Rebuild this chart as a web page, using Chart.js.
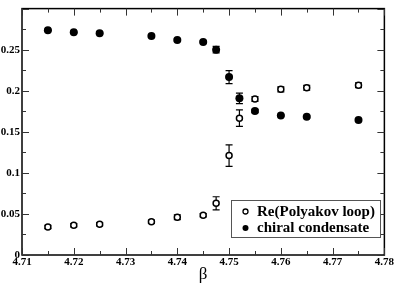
<!DOCTYPE html>
<html><head><meta charset="utf-8">
<script src="https://cdn.jsdelivr.net/npm/chart.js@4/dist/chart.umd.min.js"></script>
<style>html,body{margin:0;padding:0;background:#fff}canvas{display:block}</style>
</head><body>
<canvas id="c" width="395" height="286"></canvas>
<script>
const betas = [4.715, 4.72, 4.725, 4.735, 4.74, 4.745, 4.7475, 4.75, 4.752, 4.755, 4.76, 4.765, 4.775];
const polyakov = [0.0342, 0.0362, 0.0374, 0.0405, 0.046, 0.0483, 0.0629, 0.121, 0.1666, 0.190, 0.2017, 0.2036, 0.2067];
const polyakovErr = [0.002, 0.002, 0.002, 0.002, 0.003, 0.002, 0.008, 0.013, 0.010, 0.003, 0.003, 0.003, 0.003];
const chiral = [0.2736, 0.2712, 0.270, 0.2665, 0.2618, 0.2594, 0.250, 0.2166, 0.1907, 0.1753, 0.1698, 0.1683, 0.1643];
const chiralErr = [0.001, 0.001, 0.001, 0.001, 0.001, 0.001, 0.004, 0.008, 0.0065, 0.002, 0.001, 0.001, 0.001];
const seriesNames = ['Re(Polyakov loop)', 'chiral condensate'];
const xTicks = [4.71, 4.72, 4.73, 4.74, 4.75, 4.76, 4.77, 4.78];
const yTicks = [0, 0.05, 0.1, 0.15, 0.2, 0.25];

const SERIF = "'Liberation Serif', 'Times New Roman', Times, serif";
const errs = [polyakovErr, chiralErr];

const framePlugin = {
  id: 'frame',
  beforeDatasetsDraw(chart) {
    const ctx = chart.ctx, xs = chart.scales.x, ys = chart.scales.y;
    ctx.save();
    ctx.strokeStyle = '#000';
    ctx.lineWidth = 1.2;
    chart.data.datasets.forEach((ds, i) => {
      ds.data.forEach((p, j) => {
        const e = errs[i][j];
        const x = xs.getPixelForValue(p.x);
        const y1 = ys.getPixelForValue(p.y + e), y2 = ys.getPixelForValue(p.y - e);
        ctx.beginPath();
        ctx.moveTo(x, y1); ctx.lineTo(x, y2);
        ctx.moveTo(x - 3.5, y1); ctx.lineTo(x + 3.5, y1);
        ctx.moveTo(x - 3.5, y2); ctx.lineTo(x + 3.5, y2);
        ctx.stroke();
      });
    });
    ctx.restore();
  },
  afterDraw(chart) {
    const ctx = chart.ctx, a = chart.chartArea, xs = chart.scales.x, ys = chart.scales.y;
    ctx.save();
    ctx.strokeStyle = '#000';
    ctx.lineWidth = 1.5;
    ctx.strokeRect(a.left, a.top, a.right - a.left, a.bottom - a.top);
    ctx.lineWidth = 1;
    ctx.strokeStyle = '#333';
    ctx.beginPath();
    for (let k = 0; k <= 14; k++) {
      const v = 4.71 + k * 0.005;
      const x = Math.round(xs.getPixelForValue(v)) + 0.5;
      const L = k % 2 === 0 ? 7 : 4;
      ctx.moveTo(x, a.bottom); ctx.lineTo(x, a.bottom - L);
      ctx.moveTo(x, a.top); ctx.lineTo(x, a.top + L);
    }
    for (let k = 0; k <= 12; k++) {
      const v = k * 0.025;
      const y = Math.round(ys.getPixelForValue(v)) + 0.5;
      const L = k % 2 === 0 ? 7 : 4;
      ctx.moveTo(a.left, y); ctx.lineTo(a.left + L, y);
      ctx.moveTo(a.right, y); ctx.lineTo(a.right - L, y);
    }
    ctx.stroke();

    // legend
    const lx = 231, ly = 200, lw = 149, lh = 37;
    ctx.fillStyle = '#fff';
    ctx.fillRect(lx, ly, lw, lh);
    ctx.strokeStyle = '#555';
    ctx.lineWidth = 1;
    ctx.strokeRect(lx + 0.5, ly + 0.5, lw, lh);
    ctx.strokeStyle = '#000';
    ctx.lineWidth = 1.3;
    ctx.beginPath(); ctx.arc(245.5, 211.5, 2.5, 0, Math.PI * 2); ctx.stroke();
    ctx.fillStyle = '#000';
    ctx.beginPath(); ctx.arc(245.5, 228, 3, 0, Math.PI * 2); ctx.fill();
    ctx.font = 'bold 15px ' + SERIF;
    ctx.textBaseline = 'middle';
    ctx.textAlign = 'left';
    ctx.fillText(seriesNames[0], 257, 212);
    ctx.fillText(seriesNames[1], 257, 228);
    ctx.restore();
  }
};

function build() {
  new Chart(document.getElementById('c'), {
    type: 'scatter',
    data: {
      datasets: [
        { label: seriesNames[0], data: betas.map((b, i) => ({x: b, y: polyakov[i]})),
          pointStyle: 'circle', pointRadius: 3, pointBorderWidth: 1.5,
          pointBackgroundColor: '#fff', pointBorderColor: '#000', showLine: false },
        { label: seriesNames[1], data: betas.map((b, i) => ({x: b, y: chiral[i]})),
          pointStyle: 'circle', pointRadius: 4, pointBorderWidth: 0,
          pointBackgroundColor: '#000', pointBorderColor: '#000', showLine: false }
      ]
    },
    options: {
      responsive: false, animation: false, devicePixelRatio: 1,
      layout: { padding: { top: 1, right: 10, left: 0, bottom: 0 } },
      plugins: { legend: { display: false }, tooltip: { enabled: false } },
      scales: {
        x: {
          type: 'linear', min: 4.71, max: 4.78,
          afterBuildTicks(s) { s.ticks = xTicks.map(v => ({value: v})); },
          afterFit(s) { s.height = 31; },
          grid: { display: false, drawTicks: false },
          border: { display: false },
          ticks: { color: '#000', padding: 1, maxRotation: 0, autoSkip: false,
            font: { family: SERIF, size: 11, weight: 'bold' },
            callback: v => v.toFixed(2) },
          title: { display: true, text: 'β', color: '#000',
            font: { family: SERIF, size: 17 }, padding: { top: 0, bottom: 1 } }
        },
        y: {
          type: 'linear', min: 0, max: 0.3,
          afterBuildTicks(s) { s.ticks = yTicks.map(v => ({value: v})); },
          afterFit(s) { s.width = 22; },
          grid: { display: false, drawTicks: false },
          border: { display: false },
          ticks: { color: '#000', padding: 2, autoSkip: false,
            font: { family: SERIF, size: 11, weight: 'bold' },
            callback: v => String(parseFloat(v.toFixed(3))) }
        }
      }
    },
    plugins: [framePlugin]
  });
}
if (document.fonts && document.fonts.load) {
  Promise.all([
    document.fonts.load("bold 11px 'Liberation Serif'"),
    document.fonts.load("17px 'Liberation Serif'")
  ]).then(build, build);
} else { build(); }
</script>
</body></html>
